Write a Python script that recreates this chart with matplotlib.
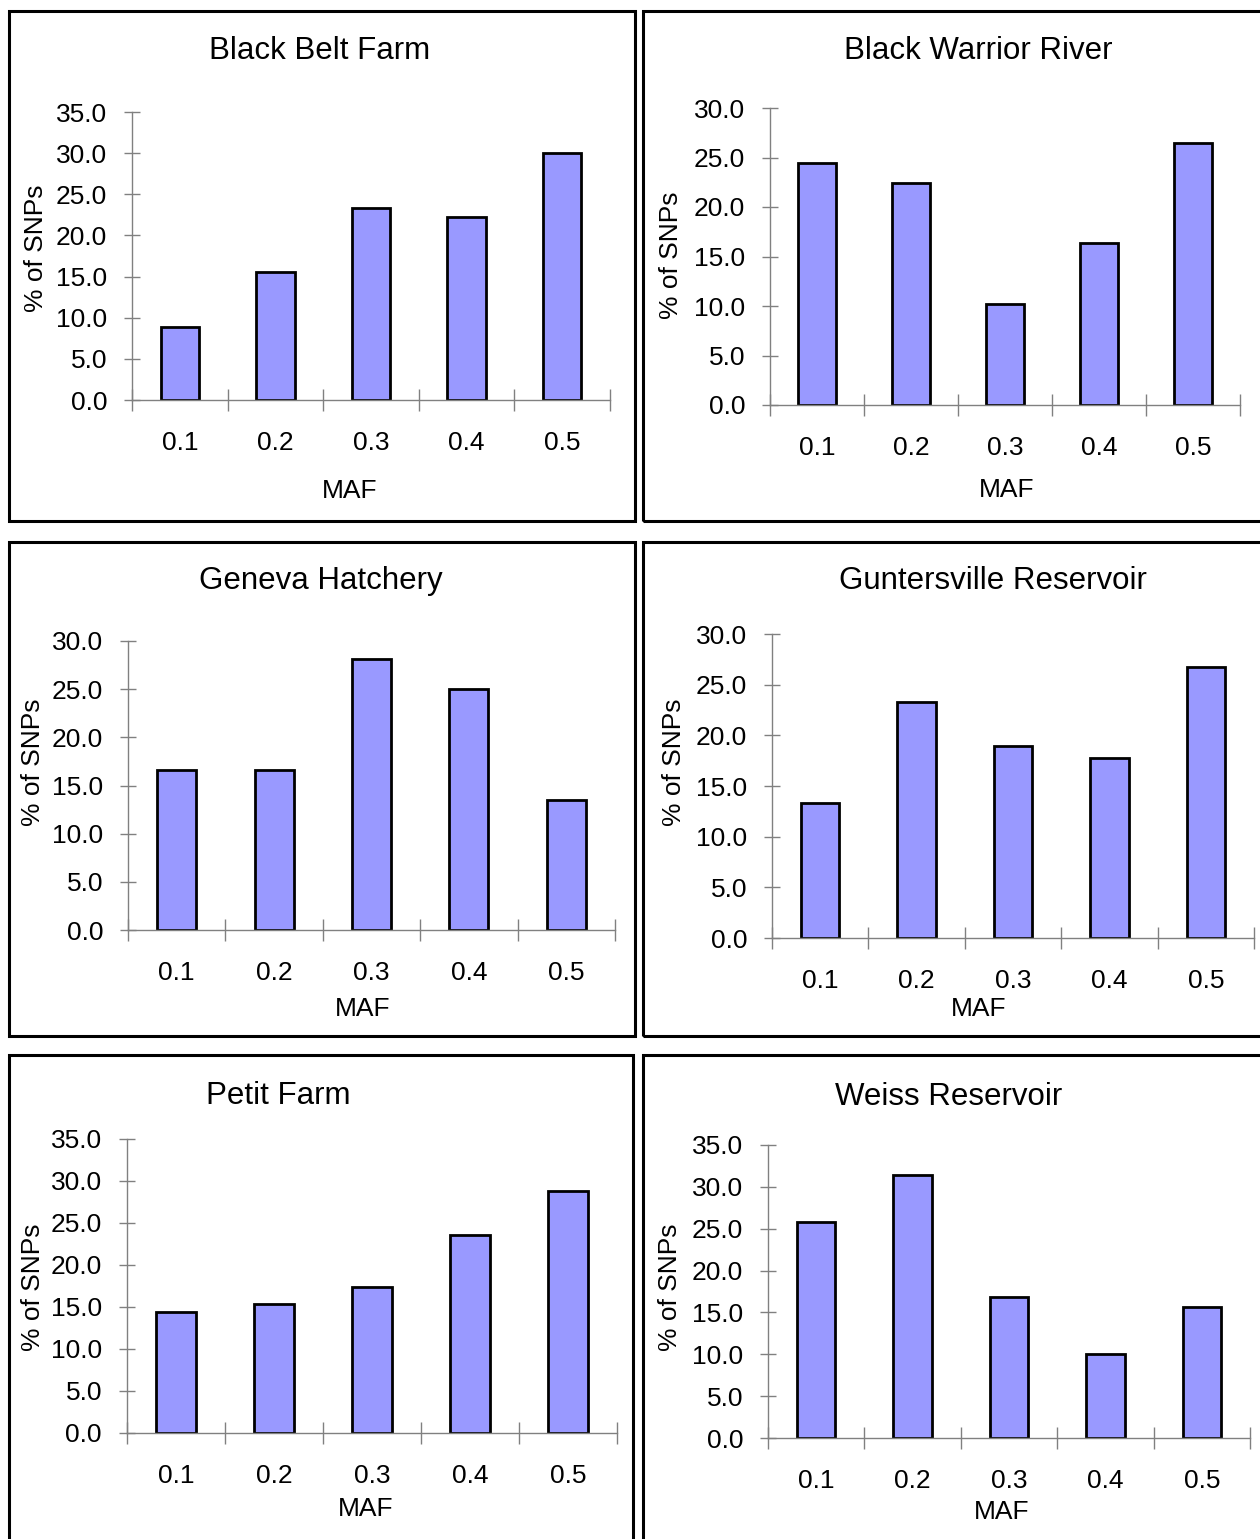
import matplotlib
matplotlib.use("Agg")
import matplotlib.pyplot as plt
from matplotlib.patches import Rectangle
from matplotlib.ticker import FormatStrFormatter, MultipleLocator

plt.rcParams['font.family'] = ['Liberation Sans', 'DejaVu Sans']

maf = ["0.1", "0.2", "0.3", "0.4", "0.5"]

black_belt_farm = [8.9, 15.5, 23.3, 22.2, 30.0]
black_warrior_river = [24.4, 22.4, 10.2, 16.4, 26.5]
geneva_hatchery = [16.6, 16.6, 28.1, 25.0, 13.5]
guntersville_reservoir = [13.3, 23.3, 18.9, 17.8, 26.7]
petit_farm = [14.4, 15.4, 17.4, 23.6, 28.8]
weiss_reservoir = [25.8, 31.4, 16.8, 10.0, 15.7]

titles = ["Black Belt Farm", "Black Warrior River", "Geneva Hatchery",
          "Guntersville Reservoir", "Petit Farm", "Weiss Reservoir"]
series = [black_belt_farm, black_warrior_river, geneva_hatchery,
          guntersville_reservoir, petit_farm, weiss_reservoir]
ymax = [35, 30, 30, 30, 35, 35]

W, H = 1260, 1539
fig = plt.figure(figsize=(W / 100, H / 100), dpi=100)

# pixel layout per panel: frame (x0,y0,x1,y1), axes (left, x_right, y_top, y_zero),
# title (x,y), ylabel (x,y), xlabel (x,y)
layout = [
    dict(frame=(9, 11, 635, 521), ax=(132, 610, 112, 400), title=(320, 51), ylab=(36, 248), xlab=(350, 491)),
    dict(frame=(643, 11, 1264, 521), ax=(770, 1240, 108, 405), title=(978, 51), ylab=(671, 255), xlab=(1007, 490)),
    dict(frame=(9, 542, 635, 1036), ax=(128, 615, 641, 930), title=(321, 581), ylab=(33, 762), xlab=(363, 1009)),
    dict(frame=(643, 542, 1264, 1036), ax=(772, 1254, 634, 938), title=(993, 581), ylab=(674, 762), xlab=(979, 1009)),
    dict(frame=(9, 1055, 633, 1545), ax=(127, 617, 1139, 1433), title=(278, 1096), ylab=(33, 1287), xlab=(366, 1509)),
    dict(frame=(643, 1055, 1264, 1545), ax=(768, 1250, 1145, 1438), title=(949, 1097), ylab=(670, 1287), xlab=(1002, 1512)),
]


def fx(x):
    return x / W


def fy(y):
    return 1 - y / H


for vals, title, top, lay in zip(series, titles, ymax, layout):
    x0, y0, x1, y1 = lay["frame"]
    fig.patches.append(Rectangle((fx(x0), fy(y1)), fx(x1 - x0), (y1 - y0) / H,
                                 transform=fig.transFigure, fill=False,
                                 edgecolor="black", linewidth=2.2, zorder=0))
    left, right, ytop, yzero = lay["ax"]
    ax = fig.add_axes([fx(left), fy(yzero), fx(right - left), (yzero - ytop) / H])
    ax.bar(range(len(maf)), vals, width=0.4, color="#9999ff",
           edgecolor="black", linewidth=2, zorder=3)
    ax.set_xlim(-0.5, len(maf) - 0.5)
    ax.set_ylim(0, top)
    ax.yaxis.set_major_locator(MultipleLocator(5))
    ax.yaxis.set_major_formatter(FormatStrFormatter("%.1f"))
    ax.set_xticks(range(len(maf)))
    ax.set_xticklabels(maf)
    ax.set_xticks([i - 0.5 for i in range(len(maf) + 1)], minor=True)
    ax.tick_params(axis="x", which="major", length=0, pad=22.5, labelsize=19)
    ax.tick_params(axis="x", which="minor", length=16, direction="inout",
                   color="#808080", width=1)
    ax.tick_params(axis="y", which="major", length=12, direction="inout",
                   color="#808080", width=1, pad=12, labelsize=19)
    for s in ["top", "right"]:
        ax.spines[s].set_visible(False)
    for s in ["left", "bottom"]:
        ax.spines[s].set_color("#808080")
        ax.spines[s].set_linewidth(1)
    ax.spines["bottom"].set_zorder(4)
    ax.patch.set_visible(False)

    tx, ty = lay["title"]
    fig.text(fx(tx), fy(ty), title, ha="center", va="center", fontsize=22.5)
    lx, ly = lay["ylab"]
    fig.text(fx(lx), fy(ly), "% of SNPs", ha="center", va="center",
             rotation=90, fontsize=19)
    mx, my = lay["xlab"]
    fig.text(fx(mx), fy(my), "MAF", ha="center", va="center", fontsize=19)

fig.savefig("out.png", dpi=100)
